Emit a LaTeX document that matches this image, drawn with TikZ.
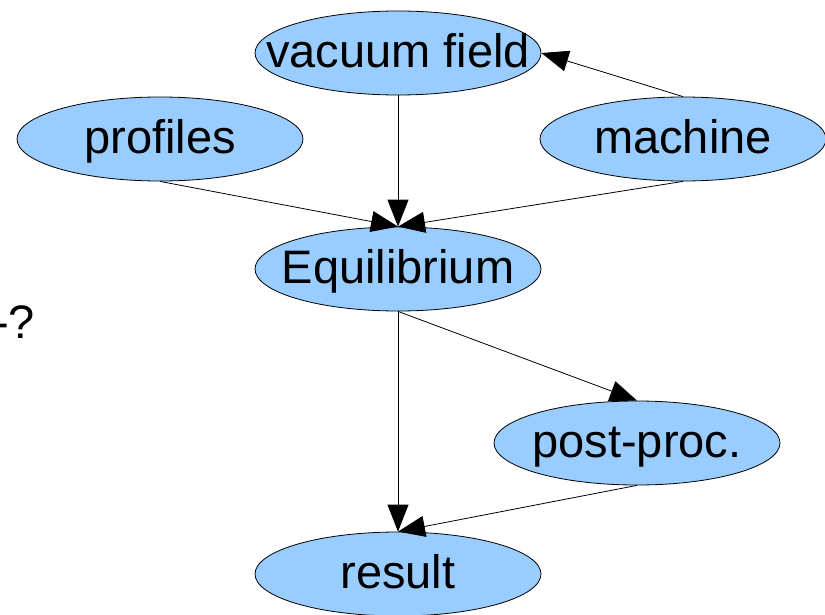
\documentclass[tikz,border=0pt]{standalone}
\usepackage{fontspec}
\setmainfont{Liberation Sans}
\usetikzlibrary{shapes.geometric,arrows.meta}
\definecolor{blobblue}{HTML}{99CCFF}
\tikzstyle{blob}=[ellipse,draw=black,fill=blobblue,line width=0.8pt,minimum width=286pt,minimum height=84pt,inner xsep=-40pt,inner ysep=0pt,text height=36pt,text depth=7pt,font=\fontsize{47}{56}\selectfont]
\tikzstyle{edge} = [draw,line width=0.8pt,-{Triangle[length=27pt,width=21pt]}]

\begin{document}
\begin{tikzpicture}[x=1pt,y=-1pt]
  \useasboundingbox (0,0) rectangle (825,615);
    % the code boxes
    \foreach \pos/\name/\label in {{(398,53)/vac/vacuum field}, {(160,139)/prof/profiles}, {(683,139)/mach/machine}, {(398,269)/eq/Equilibrium}, {(637,443)/post/post-proc.}, {(398,574)/res/result}}
            \node[blob] (\name) at \pos {\label};
  \node[anchor=base east,inner sep=0pt,font=\fontsize{47}{56}\selectfont] (ask) at (35,338) {-?};

    % data flow between them
  \foreach \source/\sa/\dest/\da in {vac/south/eq/north, prof/south/eq/north, mach/south/eq/north, mach/north/vac/east, eq/south/res/north, eq/south/post/north, post/south/res/north}
        \draw[edge] (\source.\sa) -- (\dest.\da);
\end{tikzpicture}
\end{document}
